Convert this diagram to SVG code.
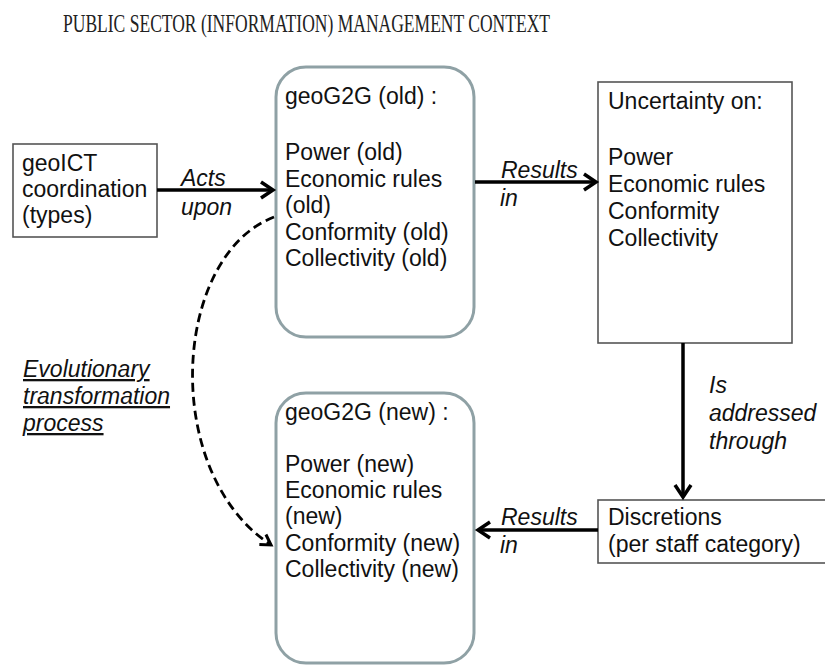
<svg xmlns="http://www.w3.org/2000/svg" width="825" height="666" viewBox="0 0 825 666">
<style>
.t{font-family:"Liberation Sans",Arial,sans-serif;font-size:23px;fill:#111}
.i{font-style:italic}
.u{text-decoration:underline}
.box{fill:#fff;stroke:#555;stroke-width:1.6}
.rbox{fill:#fff;stroke:#8fa1a5;stroke-width:3}
.con{fill:none;stroke:#000;stroke-width:3.5}
.dash{fill:none;stroke:#000;stroke-width:2.8;stroke-dasharray:9 5}
.title{font-family:"Liberation Serif","Times New Roman",serif;font-size:26px;fill:#222}
</style>
<defs>
<marker id="ah" markerUnits="userSpaceOnUse" markerWidth="20" markerHeight="20" viewBox="-14 -10 16 20" refX="0" refY="0" orient="auto">
<path d="M-12,-8 L0,0 L-12,8" fill="none" stroke="#000" stroke-width="3.5" stroke-linejoin="miter"/>
</marker>
<marker id="ahd" markerUnits="userSpaceOnUse" markerWidth="20" markerHeight="20" viewBox="-14 -10 16 20" refX="0" refY="0" orient="auto">
<path d="M-10,-6 L0,0 L-10,6" fill="none" stroke="#000" stroke-width="3" stroke-linejoin="miter"/>
</marker>
</defs>
<rect width="825" height="666" fill="#fff"/>
<text id="title" class="title" x="63" y="32" textLength="487" lengthAdjust="spacingAndGlyphs">PUBLIC SECTOR (INFORMATION) MANAGEMENT CONTEXT</text>

<g id="geoict">
<rect class="box" x="13" y="144" width="144" height="93"/>
<text class="t" x="22" y="171">geoICT</text>
<text class="t" x="22" y="197">coordination</text>
<text class="t" x="22" y="223">(types)</text>
</g>

<g id="g2g-old">
<rect class="rbox" x="276" y="67" width="198" height="270" rx="30" ry="30"/>
<text class="t" x="285" y="104">geoG2G (old) :</text>
<text class="t" x="285" y="160">Power (old)</text>
<text class="t" x="285" y="187">Economic rules</text>
<text class="t" x="285" y="213">(old)</text>
<text class="t" x="285" y="240">Conformity (old)</text>
<text class="t" x="285" y="266">Collectivity (old)</text>
</g>

<g id="uncertainty">
<rect class="box" x="598" y="82" width="194" height="261"/>
<text class="t" x="608" y="109">Uncertainty on:</text>
<text class="t" x="608" y="165">Power</text>
<text class="t" x="608" y="192">Economic rules</text>
<text class="t" x="608" y="219">Conformity</text>
<text class="t" x="608" y="246">Collectivity</text>
</g>

<g id="g2g-new">
<rect class="rbox" x="276" y="393" width="198" height="270" rx="30" ry="30"/>
<text class="t" x="285" y="420">geoG2G (new) :</text>
<text class="t" x="285" y="472">Power (new)</text>
<text class="t" x="285" y="498">Economic rules</text>
<text class="t" x="285" y="524">(new)</text>
<text class="t" x="285" y="551">Conformity (new)</text>
<text class="t" x="285" y="577">Collectivity (new)</text>
</g>

<g id="discretions">
<rect class="box" x="598" y="500" width="230" height="63"/>
<text class="t" x="608" y="525">Discretions</text>
<text class="t" x="608" y="552">(per staff category)</text>
</g>

<g id="evolution-label">
<text class="t i u" x="23" y="377">Evolutionary</text>
<text class="t i u" x="23" y="404">transformation</text>
<text class="t i u" x="23" y="431">process</text>
</g>

<g id="connectors">
<line class="con" x1="157" y1="190" x2="273" y2="190" marker-end="url(#ah)"/>
<text class="t i" x="181" y="186">Acts</text>
<text class="t i" x="181" y="215">upon</text>

<line class="con" x1="475" y1="182" x2="596" y2="182" marker-end="url(#ah)"/>
<text class="t i" x="501" y="178">Results</text>
<text class="t i" x="500" y="206">in</text>

<line class="con" x1="683" y1="343" x2="683" y2="497" marker-end="url(#ah)"/>
<text class="t i" x="709" y="393">Is</text>
<text class="t i" x="709" y="421">addressed</text>
<text class="t i" x="709" y="449">through</text>

<line class="con" x1="598" y1="530" x2="478" y2="530" marker-end="url(#ah)"/>
<text class="t i" x="501" y="525">Results</text>
<text class="t i" x="500" y="553">in</text>

<path class="dash" d="M274,217 C172,256 160,472 271,545" marker-end="url(#ahd)"/>
</g>
</svg>
